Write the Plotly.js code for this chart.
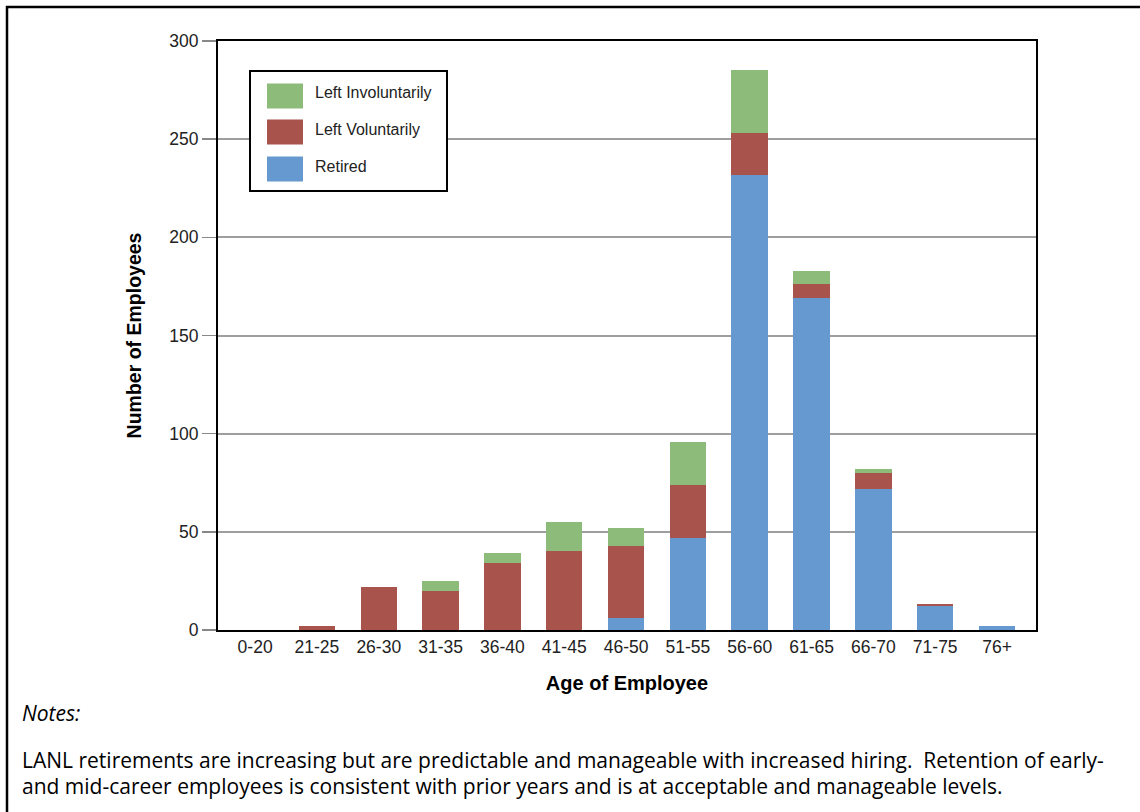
<!DOCTYPE html>
<html>
<head>
<meta charset="utf-8">
<script src="https://cdn.plot.ly/plotly-3.0.1.min.js"></script>
<style>
  html, body { margin: 0; padding: 0; background: #ffffff; }
  #chart { width: 1140px; height: 812px; }
</style>
</head>
<body>
<div id="chart"></div>
<script>
// ---- Data ----
const ageGroups = ["0-20", "21-25", "26-30", "31-35", "36-40", "41-45", "46-50", "51-55", "56-60", "61-65", "66-70", "71-75", "76+"];
const retired            = [0, 0, 0, 0, 0, 0, 6, 47, 232, 169, 72, 12, 2];
const leftVoluntarily    = [0, 2, 22, 20, 34, 40, 37, 27, 21, 7, 8, 1, 0];
const leftInvoluntarily  = [0, 0, 0, 5, 5, 15, 9, 22, 32, 7, 2, 0, 0];
const seriesNames  = ["Left Involuntarily", "Left Voluntarily", "Retired"];
const yTicks = [0, 50, 100, 150, 200, 250, 300];
const xTitle = "Age of Employee";
const yTitle = "Number of Employees";
const notesLabel = "Notes:";
const notesLines = [
  "LANL retirements are increasing but are predictable and manageable with increased hiring.  Retention of early-",
  "and mid-career employees is consistent with prior years and is at acceptable and manageable levels."
];

const colors = { retired: "#6699d0", vol: "#a8534b", invol: "#8dbb79" };
const chartFont = "Liberation Sans, Arial, sans-serif";
const notesFont = "Open Sans, Noto Sans, sans-serif";

const traces = [
  { type: "bar", name: seriesNames[2], x: ageGroups, y: retired, marker: { color: colors.retired }, hoverinfo: "x+y+name" },
  { type: "bar", name: seriesNames[1], x: ageGroups, y: leftVoluntarily, marker: { color: colors.vol }, hoverinfo: "x+y+name" },
  { type: "bar", name: seriesNames[0], x: ageGroups, y: leftInvoluntarily, marker: { color: colors.invol }, hoverinfo: "x+y+name" }
];

// plot area in px: left 218, right 1036, top 41, bottom 630
const L = 218, R = 1036, T = 41, B = 630;
const W = R - L, H = B - T;
const px = v => (v - L) / W;
const py = v => (B - v) / H;

const shapes = [];
const annotations = [];

// outer frame (left + top edges)
shapes.push({ type: "line", xref: "paper", yref: "paper", x0: px(7), x1: px(7), y0: py(6), y1: py(830), line: { color: "#000", width: 2.5 } });
shapes.push({ type: "line", xref: "paper", yref: "paper", x0: px(6), x1: px(1160), y0: py(7), y1: py(7), line: { color: "#000", width: 2.5 } });

// legend box
const lg = { x0: 250, x1: 447, y0: 71, y1: 191 };
shapes.push({ type: "rect", xref: "paper", yref: "paper", x0: px(lg.x0), x1: px(lg.x1), y0: py(lg.y0), y1: py(lg.y1), line: { color: "#000", width: 2 }, fillcolor: "#ffffff" });
const legendColors = [colors.invol, colors.vol, colors.retired];
const rowCenters = [96, 132, 169];
seriesNames.forEach((name, i) => {
  const c = rowCenters[i];
  shapes.push({ type: "rect", xref: "paper", yref: "paper", x0: px(267), x1: px(303), y0: py(c - 12.5), y1: py(c + 12.5), line: { width: 0 }, fillcolor: legendColors[i] });
  annotations.push({ xref: "paper", yref: "paper", x: px(313), y: py(c - 3), xanchor: "left", yanchor: "middle", text: name, showarrow: false, font: { family: chartFont, size: 16, color: "#222" } });
});

// notes
annotations.push({ xref: "paper", yref: "paper", x: px(20), y: py(713), xanchor: "left", yanchor: "middle", text: "<i>" + notesLabel + "</i>", showarrow: false, font: { family: notesFont, size: 21, color: "#000" } });
notesLines.forEach((t, i) => {
  annotations.push({ xref: "paper", yref: "paper", x: px(20), y: py(760 + i * 26), xanchor: "left", yanchor: "middle", text: t, showarrow: false, font: { family: notesFont, size: 21, color: "#000" } });
});

const layout = {
  width: 1140, height: 812,
  paper_bgcolor: "#ffffff", plot_bgcolor: "#ffffff",
  margin: { l: L, r: 1140 - R, t: T, b: 812 - B, pad: 0 },
  barmode: "stack",
  bargap: 0.41,
  showlegend: false,
  font: { family: chartFont, color: "#222" },
  xaxis: {
    type: "category",
    range: [-0.6, 12.63],
    showline: true, linecolor: "#000", linewidth: 2, mirror: true,
    ticks: "", showgrid: false, zeroline: false,
    tickfont: { family: chartFont, size: 17.5, color: "#222" },
    title: { text: xTitle, font: { family: chartFont, size: 20, color: "#000", weight: "bold" }, standoff: 20 },
    fixedrange: true
  },
  yaxis: {
    range: [0, 300],
    tickvals: yTicks,
    ticktext: yTicks.map(String),
    showline: true, linecolor: "#000", linewidth: 2, mirror: true,
    ticks: "outside", ticklen: 14, tickcolor: "#888", tickwidth: 1.5,
    showgrid: true, gridcolor: "#9e9e9e", gridwidth: 2,
    zeroline: false,
    tickfont: { family: chartFont, size: 17.5, color: "#222" },
    title: { text: yTitle, font: { family: chartFont, size: 19.5, color: "#000", weight: "bold" }, standoff: 22 },
    fixedrange: true
  },
  shapes: shapes,
  annotations: annotations
};

Plotly.newPlot("chart", traces, layout, { displayModeBar: false, staticPlot: true });
</script>
</body>
</html>
